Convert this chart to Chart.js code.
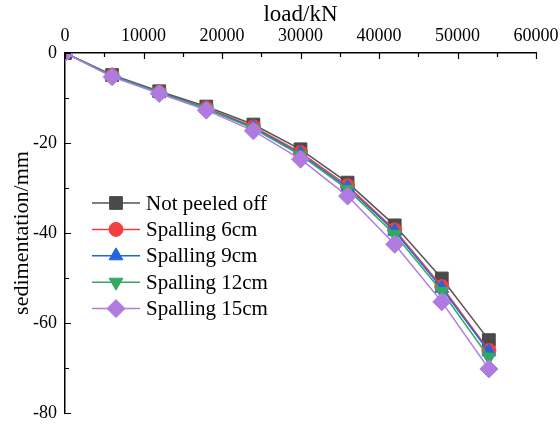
<!DOCTYPE html>
<html>
<head>
<meta charset="utf-8">
<script src="https://cdn.jsdelivr.net/npm/chart.js@4/dist/chart.umd.min.js"></script>
<style>
  html,body{margin:0;padding:0;background:#fff}
  #wrap{width:560px;height:428px}
</style>
</head>
<body>
<div id="wrap"><canvas id="c" width="560" height="428"></canvas></div>
<script>
// load (kN) vs. sedimentation (mm)
const loads = [0, 6000, 12000, 18000, 24000, 30000, 36000, 42000, 48000, 54000];
const notPeeled  = [0, -4.9, -8.5, -11.9, -15.9, -21.4, -28.8, -38.3, -50.1, -63.8];
const spalling6  = [0, -5.0, -8.7, -12.2, -16.4, -22.1, -29.5, -39.3, -51.9, -66.1];
const spalling9  = [0, -5.0, -8.7, -12.3, -16.6, -22.4, -29.9, -39.6, -52.3, -66.4];
const spalling12 = [0, -5.1, -8.8, -12.4, -16.8, -22.7, -30.3, -40.3, -53.0, -67.6];
const spalling15 = [0, -5.3, -9.0, -12.7, -17.3, -23.6, -31.8, -42.5, -55.3, -70.2];
const seriesNames = ['Not peeled off', 'Spalling 6cm', 'Spalling 9cm', 'Spalling 12cm', 'Spalling 15cm'];
const xTicks = [0, 10000, 20000, 30000, 40000, 50000, 60000];
const yTicks = [0, -20, -40, -60, -80];

const SERIF = '"Liberation Serif", "Times New Roman", serif';
const styles = [
  { color:'#4a4a4a', line:'#555555', point:'rect',     radius:9,   rotation:0 },
  { color:'#f23f3f', line:'#f23f3f', point:'circle',   radius:7,   rotation:0 },
  { color:'#2166e0', line:'#2166e0', point:'triangle', radius:8,   rotation:0 },
  { color:'#35a862', line:'#35a862', point:'triangle', radius:8,   rotation:180 },
  { color:'#b07be0', line:'#b07be0', point:'rectRot',  radius:9,   rotation:0 }
];
const allValues = [notPeeled, spalling6, spalling9, spalling12, spalling15];

const datasets = allValues.map((vals, i) => ({
  label: seriesNames[i],
  data: loads.map((x, j) => ({ x: x, y: vals[j] })),
  borderColor: styles[i].line,
  backgroundColor: styles[i].color,
  pointBackgroundColor: styles[i].color,
  pointBorderColor: styles[i].color,
  pointBorderWidth: 1,
  pointStyle: styles[i].point,
  pointRadius: styles[i].radius,
  pointRotation: styles[i].rotation,
  borderWidth: 1.5,
  tension: 0,
  order: 5 - i
}));

// inward major/minor ticks on the left and top axes
const inwardTicks = {
  id: 'inwardTicks',
  afterDraw(chart){
    const {ctx, chartArea:a, scales:{x, y}} = chart;
    ctx.save();
    ctx.strokeStyle = '#000';
    ctx.lineWidth = 1.2;
    ctx.beginPath();
    for (let v = 0; v <= 60000; v += 5000){
      const px = Math.round(x.getPixelForValue(v)) + 0.5;
      const len = v % 10000 === 0 ? 6 : 4;
      ctx.moveTo(px, a.top); ctx.lineTo(px, a.top + len);
    }
    for (let v = 0; v >= -80; v -= 10){
      const py = Math.round(y.getPixelForValue(v)) + 0.5;
      const len = v % 20 === 0 ? 6 : 4;
      ctx.moveTo(a.left, py); ctx.lineTo(a.left + len, py);
    }
    ctx.stroke();
    ctx.restore();
  }
};

// legend drawn inside the plot, line + marker + label
const innerLegend = {
  id: 'innerLegend',
  afterDraw(chart){
    const ctx = chart.ctx;
    const x0 = 92, x1 = 140, xm = 116, tx = 146, y0 = 203, dy = 26.4;
    ctx.save();
    ctx.font = '21px ' + SERIF;
    ctx.textBaseline = 'middle';
    ctx.fillStyle = '#000';
    seriesNames.forEach((name, i) => {
      const yy = y0 + i * dy, s = styles[i];
      ctx.strokeStyle = s.line; ctx.lineWidth = 1.5;
      ctx.beginPath(); ctx.moveTo(x0, yy); ctx.lineTo(x1, yy); ctx.stroke();
      ctx.fillStyle = s.color; ctx.strokeStyle = s.color; ctx.lineWidth = 1;
      Chart.helpers.drawPoint(ctx, { pointStyle: s.point, radius: s.radius, rotation: s.rotation, borderWidth: 1 }, xm, yy);
      ctx.fillStyle = '#000';
      ctx.fillText(name, tx, yy + 1);
    });
    ctx.restore();
  }
};

new Chart(document.getElementById('c'), {
  type: 'line',
  data: { datasets },
  options: {
    responsive: false,
    animation: false,
    layout: { padding: { left: 0, top: 0, right: 24, bottom: 15 } },
    plugins: { legend: { display: false }, tooltip: { enabled: false } },
    scales: {
      x: {
        type: 'linear', position: 'top', min: 0, max: 60000,
        afterBuildTicks: s => { s.ticks = xTicks.map(v => ({ value: v })); },
        afterFit: s => { s.height = 53; s.paddingLeft = 0; s.paddingRight = 0; },
        grid: { display: false, drawTicks: false },
        border: { display: true, color: '#000', width: 1.5 },
        ticks: { color: '#000', padding: 6, maxRotation: 0, font: { family: SERIF, size: 18 }, callback: v => String(v) },
        title: { display: true, text: 'load/kN', color: '#000', padding: { top: 1, bottom: 0 }, font: { family: SERIF, size: 23 } }
      },
      y: {
        type: 'linear', min: -80, max: 0,
        afterBuildTicks: s => { s.ticks = yTicks.map(v => ({ value: v })); },
        afterFit: s => { s.width = 65; s.paddingTop = 0; s.paddingBottom = 0; },
        grid: { display: false, drawTicks: false },
        border: { display: true, color: '#000', width: 1.5 },
        ticks: { color: '#000', padding: 8, font: { family: SERIF, size: 18 }, callback: v => String(v) },
        title: { display: true, text: 'sedimentation/mm', color: '#000', padding: { top: 9, bottom: 0 }, font: { family: SERIF, size: 22 } }
      }
    }
  },
  plugins: [inwardTicks, innerLegend]
});
</script>
</body>
</html>
